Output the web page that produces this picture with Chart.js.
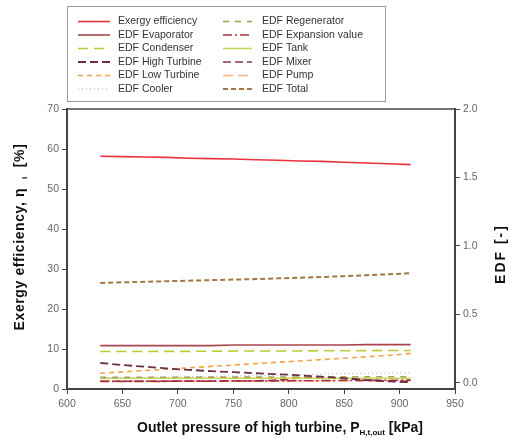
<!DOCTYPE html>
<html>
<head>
<meta charset="utf-8">
<script src="https://cdn.jsdelivr.net/npm/chart.js@4.4.1/dist/chart.umd.min.js"></script>
<style>
html,body{margin:0;padding:0;background:#fff;}
canvas{display:block;}
</style>
</head>
<body>
<canvas id="c" width="519" height="444"></canvas>
<script>
// ---- data ----
const pressure = [630,650,670,690,710,730,750,770,790,810,830,850,870,890,910];
const exergyEff = [58.2,58.1,58.0,57.9,57.7,57.6,57.5,57.3,57.2,57.0,56.9,56.7,56.5,56.3,56.1];
const edfEvaporator = [0.272,0.272,0.272,0.272,0.272,0.272,0.276,0.276,0.276,0.276,0.276,0.276,0.279,0.279,0.279];
const edfCondenser = [0.229,0.229,0.229,0.230,0.230,0.231,0.232,0.232,0.233,0.233,0.234,0.234,0.235,0.236,0.236];
const edfHighTurbine = [0.145,0.130,0.118,0.105,0.095,0.085,0.078,0.070,0.063,0.055,0.045,0.035,0.020,0.010,0.005];
const edfLowTurbine = [0.070,0.080,0.090,0.100,0.110,0.120,0.130,0.140,0.150,0.160,0.170,0.180,0.190,0.200,0.215];
const edfCooler = [0.035,0.037,0.040,0.042,0.045,0.047,0.050,0.053,0.056,0.060,0.064,0.068,0.070,0.071,0.072];
const edfRegenerator = [0.040,0.040,0.041,0.041,0.041,0.042,0.042,0.042,0.043,0.043,0.043,0.044,0.044,0.045,0.045];
const edfExpansion = [0.010,0.010,0.011,0.011,0.012,0.012,0.013,0.013,0.014,0.015,0.016,0.017,0.018,0.019,0.020];
const edfTank = [0.033,0.033,0.033,0.033,0.033,0.033,0.033,0.033,0.033,0.033,0.033,0.033,0.033,0.033,0.033];
const edfMixer = [0.012,0.012,0.012,0.012,0.013,0.013,0.013,0.014,0.020,0.035,0.040,0.030,0.020,0.012,0.010];
const edfPump = [0.015,0.015,0.015,0.015,0.015,0.015,0.015,0.015,0.015,0.015,0.015,0.015,0.015,0.015,0.015];
const edfTotal = [0.730,0.734,0.738,0.742,0.746,0.750,0.754,0.758,0.763,0.768,0.773,0.779,0.786,0.793,0.800];
const xTicks = [600,650,700,750,800,850,900,950];
const leftTicks = [0,10,20,30,40,50,60,70];
const rightTicks = [0.0,0.5,1.0,1.5,2.0];

const pts = arr => pressure.map((p,i)=>({x:p,y:arr[i]}));
function ds(label, arr, color, dash, width, axis){
  return {label, data: pts(arr), borderColor: color, backgroundColor: color,
    borderDash: dash, borderWidth: width, pointRadius: 0, fill:false,
    tension: 0, yAxisID: axis};
}
const datasets = [
  ds('Exergy efficiency', exergyEff, '#e8333a', [], 1.6, 'y'),
  ds('EDF Evaporator', edfEvaporator, '#a8464f', [], 1.6, 'y1'),
  ds('EDF Condenser', edfCondenser, '#b9cc32', [10,6], 1.6, 'y1'),
  ds('EDF High Turbine', edfHighTurbine, '#6e2d48', [8,4], 1.8, 'y1'),
  ds('EDF Low Turbine', edfLowTurbine, '#f4a444', [5,4], 1.6, 'y1'),
  ds('EDF Cooler', edfCooler, '#a8a8a8', [1,3], 1, 'y1'),
  ds('EDF Regenerator', edfRegenerator, '#a8a450', [6,6], 1.6, 'y1'),
  ds('EDF Expansion value', edfExpansion, '#a83038', [9,3,2,3], 1.6, 'y1'),
  ds('EDF Tank', edfTank, '#c8d65c', [], 1.6, 'y1'),
  ds('EDF Mixer', edfMixer, '#8e3448', [8,4], 1.6, 'y1'),
  ds('EDF Pump', edfPump, '#f8b47a', [10,5], 1.6, 'y1'),
  ds('EDF Total', edfTotal, '#a27844', [5,3], 2, 'y1'),
];

const FONT = '"Liberation Sans", Arial, sans-serif';

const framePlugin = {
  id: 'frame',
  afterDatasetsDraw(chart){
    const {ctx, chartArea:a} = chart;
    ctx.save();
    ctx.strokeStyle = '#444';
    ctx.lineWidth = 1.5;
    ctx.beginPath();
    ctx.moveTo(a.left, a.top); ctx.lineTo(a.right, a.top);
    ctx.stroke();
    ctx.restore();
  },
  afterDraw(chart){
    const ctx = chart.ctx;
    ctx.save();
    // legend box
    ctx.strokeStyle = '#9a9a9a';
    ctx.lineWidth = 1;
    ctx.strokeRect(67.5, 6.5, 318, 95);
    ctx.font = '10.5px ' + FONT;
    ctx.fillStyle = '#333';
    ctx.textBaseline = 'middle';
    chart.data.datasets.forEach((d,i)=>{
      const col = i < 6 ? 0 : 1;
      const row = i % 6;
      const y = 21.5 + row*13.5;
      const x0 = col ? 223 : 78, x1 = col ? 252 : 110, tx = col ? 262 : 118;
      ctx.save();
      ctx.strokeStyle = d.borderColor;
      ctx.lineWidth = d.borderWidth;
      ctx.setLineDash(d.borderDash);
      ctx.beginPath(); ctx.moveTo(x0, y); ctx.lineTo(x1, y); ctx.stroke();
      ctx.restore();
      ctx.fillText(d.label, tx, y);
    });
    // axis titles with subscripts
    ctx.fillStyle = '#111';
    function drawParts(parts, x, y, spacing){
      ctx.letterSpacing = spacing || '0px';
      let total = 0;
      parts.forEach(p=>{ ctx.font = p.f; total += ctx.measureText(p.t).width; });
      let cx = x - total/2;
      ctx.textAlign = 'left';
      parts.forEach(p=>{ ctx.font = p.f; ctx.fillText(p.t, cx, y + (p.dy||0)); cx += ctx.measureText(p.t).width; });
      ctx.letterSpacing = '0px';
    }
    const B = 'bold 14px ' + FONT, S = 'bold 8px ' + FONT;
    ctx.textBaseline = 'middle';
    drawParts([{t:'Outlet pressure of high turbine, P', f:B},{t:'H,t,out', f:S, dy:5},{t:' [kPa]', f:B}], 280, 428);
    ctx.save();
    ctx.translate(20, 237); ctx.rotate(-Math.PI/2);
    drawParts([{t:'Exergy efficiency, \u03b7  ', f:B},{t:'i', f:S, dy:5},{t:'  [%]', f:B}], 0, 0, '0.6px');
    ctx.restore();
    ctx.save();
    ctx.translate(501, 254); ctx.rotate(-Math.PI/2);
    drawParts([{t:'EDF [-]', f:B}], 0, 0, '2px');
    ctx.restore();
    ctx.restore();
  }
};

const tickFont = {family: FONT, size: 10.5};
new Chart(document.getElementById('c'), {
  type: 'line',
  data: { datasets },
  options: {
    responsive: false,
    animation: false,
    devicePixelRatio: 1,
    layout: { padding: { top: 109, left: 0, right: 0, bottom: 0 } },
    plugins: { legend: { display: false }, tooltip: { enabled: false } },
    scales: {
      x: {
        type: 'linear', min: 600, max: 950,
        afterBuildTicks: s => { s.ticks = xTicks.map(v=>({value:v})); },
        ticks: { font: tickFont, color: '#666', padding: 4, maxRotation: 0 },
        grid: { drawOnChartArea: false, tickLength: 5, color: '#444' },
        border: { color: '#444', width: 2 },
        afterFit: s => { s.height = 55; }
      },
      y: {
        position: 'left', min: 0, max: 70,
        afterBuildTicks: s => { s.ticks = leftTicks.map(v=>({value:v})); },
        ticks: { font: tickFont, color: '#666', padding: 3 },
        grid: { drawOnChartArea: false, tickLength: 5, color: '#444' },
        border: { color: '#444', width: 2 },
        afterFit: s => { s.width = 67; }
      },
      y1: {
        position: 'right', min: -0.045, max: 2.0,
        afterBuildTicks: s => { s.ticks = rightTicks.map(v=>({value:v})); },
        ticks: { font: tickFont, color: '#666', padding: 3, callback: v => Number(v).toFixed(1) },
        grid: { drawOnChartArea: false, tickLength: 5, color: '#444' },
        border: { color: '#444', width: 2 },
        afterFit: s => { s.width = 64; }
      }
    }
  },
  plugins: [framePlugin]
});
</script>
</body>
</html>
